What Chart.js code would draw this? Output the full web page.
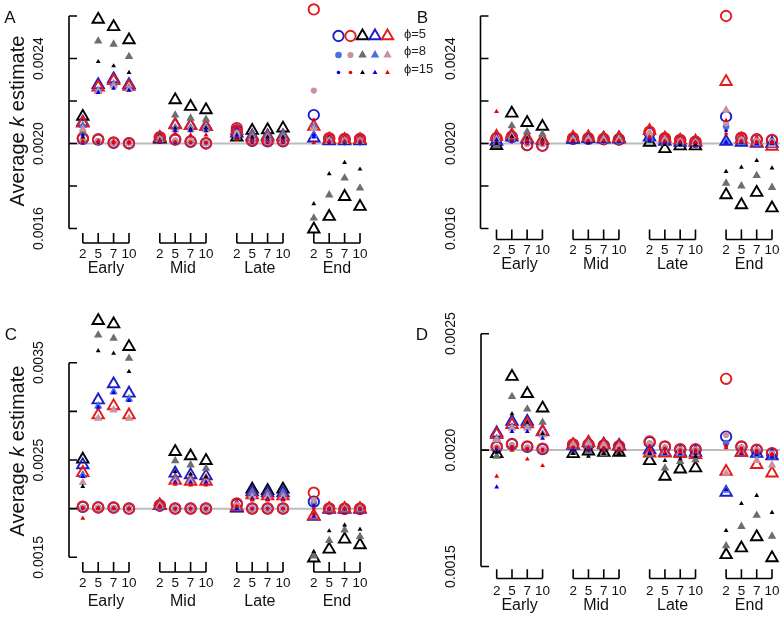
<!DOCTYPE html>
<html>
<head>
<meta charset="utf-8">
<script src="https://cdn.jsdelivr.net/npm/chart.js@4.4.1/dist/chart.umd.min.js"></script>
<style>
  body { margin: 0; background: #fff; }
  canvas { position: absolute; left: 0; top: 0; }
</style>
</head>
<body>
<canvas id="panelA" width="784" height="618"></canvas>
<canvas id="panelB" width="784" height="618"></canvas>
<canvas id="panelC" width="784" height="618"></canvas>
<canvas id="panelD" width="784" height="618"></canvas>
<script>
// categories: 4 sampling periods x 4 sample sizes
const groups = ['Early', 'Mid', 'Late', 'End'];
const sampleLabels = ['2', '5', '7', '10'];
const slots = [0, 1, 2, 3, 5, 6, 7, 8, 10, 11, 12, 13, 15, 16, 17, 18];
const refK = 0.002;
const legendLabels = ['\u03d5=5', '\u03d5=8', '\u03d5=15'];

// series order in every panel:
// phi=5 : open circle blue, open circle red, open tri black, open tri blue, open tri red
// phi=8 : circle blue, circle pink, tri grey, tri blue, tri pink
// phi=15: dot blue, dot red, small tri black, small tri blue, small tri red

// ---- panel A ----
const A_c5b  = [0.002022, 0.002018, 0.002003, 0.002000, 0.002028, 0.002018, 0.002008, 0.002000, 0.002060, 0.002012, 0.002010, 0.002010, 0.002134, 0.002022, 0.002020, 0.002020];
const A_c5r  = [0.002025, 0.002020, 0.002005, 0.002002, 0.002030, 0.002020, 0.002010, 0.002002, 0.002072, 0.002015, 0.002013, 0.002012, 0.002631, 0.002025, 0.002022, 0.002022];
const A_t5k  = [0.002127, 0.002584, 0.002549, 0.002487, 0.002020, 0.002205, 0.002174, 0.002158, 0.002030, 0.002061, 0.002064, 0.002072, 0.001597, 0.001656, 0.001750, 0.001703];
const A_t5b  = [0.002100, 0.002276, 0.002304, 0.002276, 0.002025, 0.002090, 0.002085, 0.002080, 0.002048, 0.002035, 0.002035, 0.002035, 0.002025, 0.002012, 0.002012, 0.002012];
const A_t5r  = [0.002095, 0.002265, 0.002295, 0.002268, 0.002028, 0.002087, 0.002083, 0.002080, 0.002060, 0.002030, 0.002030, 0.002030, 0.002080, 0.002020, 0.002018, 0.002018];
const A_c8b  = [0.002012, 0.002010, 0.002003, 0.002002, 0.002020, 0.002012, 0.002008, 0.002002, 0.002040, 0.002010, 0.002010, 0.002010, 0.002080, 0.002012, 0.002012, 0.002012];
const A_c8p  = [0.002015, 0.002012, 0.002005, 0.002003, 0.002022, 0.002015, 0.002010, 0.002003, 0.002050, 0.002012, 0.002012, 0.002012, 0.002249, 0.002015, 0.002015, 0.002015];
const A_t8g  = [0.002056, 0.002482, 0.002467, 0.002409, 0.002020, 0.002134, 0.002119, 0.002114, 0.002030, 0.002045, 0.002042, 0.002045, 0.001649, 0.001758, 0.001837, 0.001790];
const A_t8b  = [0.002085, 0.002250, 0.002280, 0.002262, 0.002020, 0.002075, 0.002075, 0.002075, 0.002040, 0.002030, 0.002030, 0.002030, 0.002040, 0.002012, 0.002012, 0.002012];
const A_t8p  = [0.002068, 0.002245, 0.002270, 0.002255, 0.002018, 0.002065, 0.002065, 0.002065, 0.002045, 0.002028, 0.002028, 0.002028, 0.002070, 0.002010, 0.002010, 0.002010];
const A_c15b = [0.002005, 0.002005, 0.002003, 0.002003, 0.002008, 0.002005, 0.002005, 0.002003, 0.002020, 0.002005, 0.002005, 0.002005, 0.002040, 0.002005, 0.002005, 0.002005];
const A_c15r = [0.002008, 0.002008, 0.002005, 0.002005, 0.002010, 0.002008, 0.002006, 0.002005, 0.002025, 0.002008, 0.002008, 0.002008, 0.002112, 0.002008, 0.002008, 0.002008];
const A_t15k = [0.002030, 0.002385, 0.002365, 0.002334, 0.002015, 0.002072, 0.002068, 0.002072, 0.002025, 0.002030, 0.002030, 0.002030, 0.001716, 0.001857, 0.001910, 0.001879];
const A_t15b = [0.002040, 0.002240, 0.002260, 0.002250, 0.002015, 0.002060, 0.002060, 0.002060, 0.002040, 0.002020, 0.002020, 0.002020, 0.002030, 0.002008, 0.002008, 0.002008];
const A_t15r = [0.002010, 0.002012, 0.002010, 0.002008, 0.002012, 0.002045, 0.002040, 0.002040, 0.002020, 0.002012, 0.002010, 0.002010, 0.002003, 0.002010, 0.002010, 0.002010];
const A_yTicks  = [0.0016, 0.0018, 0.0020, 0.0022, 0.0024, 0.0026];
const A_yLabels = ['0.0016', '', '0.0020', '', '0.0024', ''];

// ---- panel B ----
const B_c5b  = [0.002022, 0.002030, 0.001992, 0.001990, 0.002022, 0.002022, 0.002020, 0.002018, 0.002050, 0.002022, 0.002015, 0.002008, 0.002127, 0.002025, 0.002018, 0.002015];
const B_c5r  = [0.002025, 0.002033, 0.001993, 0.001990, 0.002025, 0.002025, 0.002022, 0.002020, 0.002056, 0.002025, 0.002017, 0.002009, 0.002600, 0.002028, 0.002020, 0.002017];
const B_t5k  = [0.001990, 0.002142, 0.002098, 0.002080, 0.002020, 0.002025, 0.002022, 0.002025, 0.002005, 0.001975, 0.001988, 0.001988, 0.001758, 0.001711, 0.001769, 0.001696];
const B_t5b  = [0.002010, 0.002030, 0.002020, 0.002015, 0.002020, 0.002022, 0.002020, 0.002020, 0.002030, 0.002010, 0.002005, 0.002005, 0.002009, 0.002005, 0.002000, 0.002000];
const B_t5r  = [0.002033, 0.002040, 0.002025, 0.002018, 0.002028, 0.002030, 0.002025, 0.002025, 0.002060, 0.002025, 0.002015, 0.002010, 0.002291, 0.002020, 0.002005, 0.001986];
const B_c8b  = [0.002012, 0.002015, 0.002000, 0.001998, 0.002015, 0.002015, 0.002012, 0.002012, 0.002030, 0.002012, 0.002008, 0.002005, 0.002080, 0.002015, 0.002010, 0.002008];
const B_c8p  = [0.002015, 0.002020, 0.002000, 0.001998, 0.002018, 0.002018, 0.002015, 0.002015, 0.002040, 0.002015, 0.002010, 0.002005, 0.002095, 0.002018, 0.002012, 0.002010];
const B_t8g  = [0.001989, 0.002083, 0.002055, 0.002044, 0.002018, 0.002020, 0.002020, 0.002020, 0.002020, 0.002000, 0.002000, 0.002000, 0.001813, 0.001800, 0.001849, 0.001793];
const B_t8b  = [0.002005, 0.002025, 0.002020, 0.002015, 0.002018, 0.002020, 0.002018, 0.002018, 0.002025, 0.002010, 0.002005, 0.002005, 0.002009, 0.002005, 0.002000, 0.002000];
const B_t8p  = [0.002020, 0.002035, 0.002020, 0.002015, 0.002020, 0.002022, 0.002020, 0.002020, 0.002050, 0.002020, 0.002010, 0.002005, 0.002158, 0.002015, 0.002005, 0.001995];
const B_c15b = [0.002008, 0.002010, 0.002000, 0.001998, 0.002010, 0.002010, 0.002008, 0.002008, 0.002020, 0.002008, 0.002005, 0.002003, 0.002060, 0.002010, 0.002005, 0.002005];
const B_c15r = [0.002010, 0.002012, 0.002000, 0.001998, 0.002012, 0.002012, 0.002010, 0.002010, 0.002025, 0.002010, 0.002008, 0.002005, 0.002045, 0.002012, 0.002008, 0.002008];
const B_t15k = [0.002000, 0.002033, 0.002025, 0.002017, 0.002010, 0.002005, 0.002010, 0.002010, 0.002010, 0.001995, 0.001995, 0.001995, 0.001868, 0.001888, 0.001920, 0.001884];
const B_t15b = [0.002017, 0.002015, 0.002010, 0.002008, 0.002010, 0.002010, 0.002010, 0.002010, 0.002015, 0.002005, 0.002003, 0.002003, 0.002005, 0.002005, 0.002000, 0.002000];
const B_t15r = [0.002150, 0.002020, 0.002015, 0.002010, 0.002012, 0.002012, 0.002012, 0.002012, 0.002030, 0.002010, 0.002008, 0.002005, 0.002108, 0.002010, 0.002005, 0.002003];
const B_yTicks  = [0.0016, 0.0018, 0.0020, 0.0022, 0.0024, 0.0026];
const B_yLabels = ['0.0016', '', '0.0020', '', '0.0024', ''];

// ---- panel C ----
const C_c5b  = [0.002018, 0.002012, 0.002010, 0.002000, 0.002030, 0.002000, 0.002000, 0.002000, 0.002045, 0.002000, 0.002000, 0.002000, 0.002072, 0.002000, 0.001998, 0.001998];
const C_c5r  = [0.002020, 0.002014, 0.002012, 0.002002, 0.002035, 0.002003, 0.002003, 0.002003, 0.002055, 0.002003, 0.002003, 0.002003, 0.002164, 0.002003, 0.002000, 0.002000];
const C_t5k  = [0.002507, 0.003932, 0.003897, 0.003664, 0.002030, 0.002586, 0.002541, 0.002493, 0.002003, 0.002199, 0.002185, 0.002199, 0.001490, 0.001582, 0.001685, 0.001627];
const C_t5b  = [0.002449, 0.003116, 0.003281, 0.003185, 0.002030, 0.002363, 0.002346, 0.002336, 0.002010, 0.002170, 0.002160, 0.002160, 0.001920, 0.001990, 0.001990, 0.001990];
const C_t5r  = [0.002370, 0.002962, 0.003055, 0.002962, 0.002035, 0.002290, 0.002280, 0.002280, 0.002020, 0.002140, 0.002130, 0.002130, 0.001925, 0.002000, 0.002000, 0.001998];
const C_c8b  = [0.002010, 0.002008, 0.002005, 0.002000, 0.002020, 0.002000, 0.002000, 0.002000, 0.002030, 0.002000, 0.002000, 0.002000, 0.002060, 0.002000, 0.002000, 0.002000];
const C_c8p  = [0.002012, 0.002010, 0.002008, 0.002000, 0.002025, 0.002002, 0.002002, 0.002002, 0.002040, 0.002002, 0.002002, 0.002002, 0.002089, 0.002002, 0.002000, 0.002000];
const C_t8g  = [0.002340, 0.003784, 0.003750, 0.003545, 0.002030, 0.002493, 0.002449, 0.002414, 0.002010, 0.002170, 0.002160, 0.002165, 0.001514, 0.001671, 0.001781, 0.001712];
const C_t8b  = [0.002346, 0.003055, 0.003202, 0.003127, 0.002030, 0.002312, 0.002300, 0.002300, 0.002010, 0.002164, 0.002150, 0.002160, 0.001920, 0.001995, 0.001995, 0.001995];
const C_t8p  = [0.002267, 0.002928, 0.003014, 0.002928, 0.002030, 0.002277, 0.002280, 0.002280, 0.002020, 0.002120, 0.002120, 0.002120, 0.001930, 0.002000, 0.002000, 0.002000];
const C_c15b = [0.002005, 0.002005, 0.002003, 0.002000, 0.002015, 0.002000, 0.002000, 0.002000, 0.002020, 0.002000, 0.002000, 0.002000, 0.002030, 0.002000, 0.002000, 0.002000];
const C_c15r = [0.002008, 0.002005, 0.002005, 0.002000, 0.002018, 0.002000, 0.002000, 0.002000, 0.002025, 0.002000, 0.002000, 0.002000, 0.002003, 0.002000, 0.002000, 0.002000];
const C_t15k = [0.002226, 0.003623, 0.003596, 0.003408, 0.002025, 0.002380, 0.002356, 0.002325, 0.002000, 0.002100, 0.002092, 0.002092, 0.001558, 0.001771, 0.001832, 0.001788];
const C_t15b = [0.002330, 0.003040, 0.003190, 0.003110, 0.002020, 0.002270, 0.002270, 0.002270, 0.002000, 0.002100, 0.002100, 0.002100, 0.001920, 0.001995, 0.001995, 0.001995];
const C_t15r = [0.001901, 0.002000, 0.002000, 0.002000, 0.002020, 0.002250, 0.002243, 0.002243, 0.002020, 0.002089, 0.002089, 0.002089, 0.001950, 0.001998, 0.001998, 0.001998];
const C_yTicks  = [0.0015, 0.0020, 0.0025, 0.0030, 0.0035];
const C_yLabels = ['0.0015', '', '0.0025', '', '0.0035'];

// ---- panel D ----
const D_c5b  = [0.002013, 0.002025, 0.002014, 0.002004, 0.002022, 0.002022, 0.002018, 0.002015, 0.002034, 0.002014, 0.002002, 0.002002, 0.002058, 0.002014, 0.002000, 0.001985];
const D_c5r  = [0.002016, 0.002027, 0.002016, 0.002006, 0.002025, 0.002025, 0.002020, 0.002017, 0.002037, 0.002016, 0.002004, 0.002004, 0.002306, 0.002016, 0.002002, 0.001987];
const D_t5k  = [0.001984, 0.002316, 0.002242, 0.002180, 0.001984, 0.001995, 0.001990, 0.001990, 0.001954, 0.001887, 0.001918, 0.001923, 0.001550, 0.001579, 0.001627, 0.001537];
const D_t5b  = [0.002073, 0.002123, 0.002123, 0.002080, 0.002020, 0.002030, 0.002025, 0.002020, 0.002000, 0.001990, 0.001990, 0.001990, 0.001818, 0.001990, 0.001985, 0.001975];
const D_t5r  = [0.002066, 0.002109, 0.002112, 0.002078, 0.002023, 0.002033, 0.002023, 0.002016, 0.001987, 0.001987, 0.001984, 0.001980, 0.001908, 0.001990, 0.001937, 0.001901];
const D_c8b  = [0.002010, 0.002020, 0.002010, 0.002002, 0.002018, 0.002018, 0.002015, 0.002012, 0.002025, 0.002010, 0.002000, 0.002000, 0.002030, 0.002010, 0.001998, 0.001983];
const D_c8p  = [0.002012, 0.002022, 0.002012, 0.002004, 0.002020, 0.002020, 0.002017, 0.002014, 0.002030, 0.002012, 0.002002, 0.002002, 0.002065, 0.002012, 0.002000, 0.001985];
const D_t8g  = [0.001973, 0.002230, 0.002176, 0.002119, 0.001990, 0.001995, 0.001985, 0.001990, 0.001980, 0.001923, 0.001951, 0.001958, 0.001589, 0.001672, 0.001720, 0.001630];
const D_t8b  = [0.002050, 0.002100, 0.002100, 0.002070, 0.002015, 0.002020, 0.002015, 0.002012, 0.001990, 0.001985, 0.001985, 0.001985, 0.001827, 0.001988, 0.001980, 0.001970];
const D_t8p  = [0.002044, 0.002094, 0.002094, 0.002065, 0.002025, 0.002030, 0.002020, 0.002015, 0.001990, 0.001990, 0.001990, 0.001985, 0.001900, 0.001990, 0.001955, 0.001936];
const D_c15b = [0.002005, 0.002012, 0.002005, 0.002000, 0.002010, 0.002010, 0.002008, 0.002005, 0.002015, 0.002005, 0.001998, 0.001998, 0.002016, 0.002005, 0.001995, 0.001980];
const D_c15r = [0.002012, 0.002015, 0.002008, 0.002002, 0.002012, 0.002012, 0.002010, 0.002008, 0.002018, 0.002008, 0.002000, 0.002000, 0.002020, 0.002008, 0.001998, 0.001982];
const D_t15k = [0.001990, 0.002156, 0.002119, 0.002070, 0.001985, 0.001973, 0.001985, 0.001985, 0.001985, 0.001955, 0.001962, 0.001973, 0.001654, 0.001770, 0.001805, 0.001732];
const D_t15b = [0.001841, 0.002080, 0.002080, 0.002050, 0.002000, 0.002000, 0.002000, 0.002000, 0.001990, 0.001985, 0.001985, 0.001985, 0.001830, 0.001985, 0.001980, 0.001970];
const D_t15r = [0.001887, 0.001999, 0.001961, 0.001933, 0.002010, 0.002010, 0.002000, 0.002000, 0.002000, 0.001990, 0.001990, 0.001990, 0.002010, 0.001990, 0.001990, 0.001980];
const D_yTicks  = [0.0015, 0.0020, 0.0025];
const D_yLabels = ['0.0015', '0.0020', '0.0025'];

// marker look for each of the 15 series (same order as above)
const BLUE = '#1c1cc8', RED = '#e61a1a', ROYAL = '#4a6fdc', PINK = '#c8939c', GREY = '#6e6e6e';
const seriesStyles = [
    { shape: 'circle',   open: true,  color: BLUE,   r: 5.2 },
    { shape: 'circle',   open: true,  color: RED,    r: 5.2 },
    { shape: 'triangle', open: true,  color: '#000', r: 6.6 },
    { shape: 'triangle', open: true,  color: BLUE,   r: 6.6 },
    { shape: 'triangle', open: true,  color: RED,    r: 6.6 },
    { shape: 'circle',   open: false, color: ROYAL,  r: 3.3 },
    { shape: 'circle',   open: false, color: PINK,   r: 3.1 },
    { shape: 'triangle', open: false, color: GREY,   r: 4.9 },
    { shape: 'triangle', open: false, color: ROYAL,  r: 4.9 },
    { shape: 'triangle', open: false, color: PINK,   r: 4.9 },
    { shape: 'circle',   open: false, color: '#0000ee', r: 1.8 },
    { shape: 'circle',   open: false, color: '#ee0000', r: 1.8 },
    { shape: 'triangle', open: false, color: '#000', r: 2.8 },
    { shape: 'triangle', open: false, color: '#0000ee', r: 2.8 },
    { shape: 'triangle', open: false, color: '#ee0000', r: 2.8 }
];
const OPEN_LW = 1.9;

const FONT = '"Liberation Sans", Arial, sans-serif';

/**
 * Turn the 15 value arrays of a panel into scatter datasets
 * (reversed so the first series ends up at the bottom)
 */
function buildDatasets(seriesList) {
    return seriesList.map((values, i) => {
        const st = seriesStyles[i];
        return {
            data: values.map((v, j) => ({ x: slots[j], y: v })),
            pointStyle: st.shape,
            pointRadius: st.r,
            pointBorderWidth: st.open ? OPEN_LW : 0,
            pointBorderColor: st.color,
            pointBackgroundColor: st.open ? 'rgba(0,0,0,0)' : st.color,
            clip: false
        };
    }).reverse();
}

function drawTitle(ctx, cx, cy) {
    const parts = [['Average ', 'normal'], ['k', 'italic'], [' estimate', 'normal']];
    ctx.save();
    ctx.translate(cx, cy);
    ctx.rotate(-Math.PI / 2);
    ctx.textBaseline = 'middle';
    ctx.textAlign = 'left';
    ctx.fillStyle = '#111';
    let total = 0;
    const widths = parts.map(([t, s]) => {
        ctx.font = `${s} 20px ${FONT}`;
        const w = ctx.measureText(t).width;
        total += w;
        return w;
    });
    let x = -total / 2;
    parts.forEach(([t, s], i) => {
        ctx.font = `${s} 20px ${FONT}`;
        ctx.fillText(t, x, 0);
        x += widths[i];
    });
    ctx.restore();
}

function drawLegend(ctx) {
    const cols = [338.5, 350.5, 362.5, 375, 387.5];
    const rows = [36, 55, 72.5];
    rows.forEach((ry, r) => {
        cols.forEach((cx, c) => {
            const st = seriesStyles[r * 5 + c];
            ctx.save();
            ctx.fillStyle = st.open ? 'rgba(0,0,0,0)' : st.color;
            ctx.strokeStyle = st.color;
            ctx.lineWidth = st.open ? OPEN_LW : 0;
            Chart.helpers.drawPoint(ctx, {
                pointStyle: st.shape, radius: st.r, rotation: 0,
                borderWidth: st.open ? OPEN_LW : 0
            }, cx, ry);
            ctx.restore();
        });
    });
    ctx.save();
    ctx.fillStyle = '#222';
    ctx.font = `13px ${FONT}`;
    ctx.textBaseline = 'middle';
    ctx.textAlign = 'left';
    [34.3, 51.7, 69].forEach((ty, i) => ctx.fillText(legendLabels[i], 404, ty));
    ctx.restore();
}

// R-style axes, reference line, panel letter
const panelFrame = {
    id: 'panelFrame',
    beforeDatasetsDraw(chart, args, opts) {
        const { ctx, chartArea, scales: { y } } = chart;
        const yRef = y.getPixelForValue(refK);
        ctx.save();
        ctx.strokeStyle = '#bcbcbc';
        ctx.lineWidth = 2;
        ctx.beginPath();
        ctx.moveTo(chartArea.left, yRef);
        ctx.lineTo(chartArea.right, yRef);
        ctx.stroke();
        ctx.restore();
    },
    afterDraw(chart, args, opts) {
        const { ctx, chartArea, scales: { x, y } } = chart;
        const ax = chartArea.left;
        ctx.save();
        ctx.strokeStyle = '#000';
        ctx.fillStyle = '#111';
        ctx.lineWidth = 1.6;

        // y axis with inward ticks, only over the tick range
        const yTop = y.getPixelForValue(opts.yTicks[opts.yTicks.length - 1]);
        const yBot = y.getPixelForValue(opts.yTicks[0]);
        ctx.beginPath();
        ctx.moveTo(ax, yTop);
        ctx.lineTo(ax, yBot);
        opts.yTicks.forEach(t => {
            const py = y.getPixelForValue(t);
            ctx.moveTo(ax, py);
            ctx.lineTo(ax + 8, py);
        });
        ctx.stroke();
        ctx.font = `14px ${FONT}`;
        ctx.textAlign = 'center';
        ctx.textBaseline = 'middle';
        opts.yTicks.forEach((t, i) => {
            if (!opts.yLabels[i]) return;
            ctx.save();
            ctx.translate(ax - 29.5, y.getPixelForValue(t));
            ctx.rotate(-Math.PI / 2);
            ctx.fillText(opts.yLabels[i], 0, 0);
            ctx.restore();
        });

        // one bracket axis per sampling period
        const xa = opts.xAxis;
        groups.forEach((g, gi) => {
            const px = slots.slice(gi * 4, gi * 4 + 4).map(s => x.getPixelForValue(s));
            ctx.beginPath();
            ctx.moveTo(px[0], xa.line);
            ctx.lineTo(px[3], xa.line);
            px.forEach(p => {
                ctx.moveTo(p, xa.line);
                ctx.lineTo(p, xa.tickTop);
            });
            ctx.stroke();
            ctx.font = `13.5px ${FONT}`;
            px.forEach((p, i) => ctx.fillText(sampleLabels[i], p, xa.digits));
            ctx.font = `16px ${FONT}`;
            ctx.fillText(g, (px[0] + px[3]) / 2, xa.group);
        });

        // panel letter
        ctx.font = `17px ${FONT}`;
        ctx.fillText(opts.letter, opts.letterPos[0], opts.letterPos[1]);
        ctx.restore();

        if (opts.title) drawTitle(ctx, opts.title[0], opts.title[1]);
        if (opts.legend) drawLegend(ctx);
    }
};

// geo: chart area box plus where slot 0 / slot 18 and the lowest / highest
// tick should land, so the scale ranges reach past the axis and nothing is culled
function makePanel(canvasId, seriesList, geo, frame) {
    const unit = (geo.px18 - geo.px0) / 18;
    const xMin = -(geo.px0 - geo.left) / unit;
    const xMax = 18 + (geo.right - geo.px18) / unit;
    const lo = frame.yTicks[0], hi = frame.yTicks[frame.yTicks.length - 1];
    const perPx = (hi - lo) / (geo.loPx - geo.hiPx);
    const yMax = hi + (geo.hiPx - geo.top) * perPx;
    const yMin = lo - (geo.bottom - geo.loPx) * perPx;
    return new Chart(document.getElementById(canvasId), {
        type: 'scatter',
        data: { datasets: buildDatasets(seriesList) },
        options: {
            responsive: false,
            animation: false,
            events: [],
            layout: {
                autoPadding: false,
                padding: { left: geo.left, right: 784 - geo.right, top: geo.top, bottom: 618 - geo.bottom }
            },
            scales: {
                x: { type: 'linear', min: xMin, max: xMax, display: false },
                y: { type: 'linear', min: yMin, max: yMax, display: false }
            },
            plugins: {
                legend: { display: false },
                tooltip: { enabled: false },
                panelFrame: frame
            }
        },
        plugins: [panelFrame]
    });
}

makePanel('panelA',
    [A_c5b, A_c5r, A_t5k, A_t5b, A_t5r, A_c8b, A_c8p, A_t8g, A_t8b, A_t8p, A_c15b, A_c15r, A_t15k, A_t15b, A_t15r],
    { left: 69, right: 367, px0: 82.8, px18: 360, top: 0, bottom: 250, hiPx: 16, loPx: 228.5 },
    { yTicks: A_yTicks, yLabels: A_yLabels, letter: 'A', letterPos: [10, 18],
      xAxis: { tickTop: 233, line: 243, digits: 254.5, group: 268.5 },
      title: [18, 121], legend: true });

makePanel('panelB',
    [B_c5b, B_c5r, B_t5k, B_t5b, B_t5r, B_c8b, B_c8p, B_t8g, B_t8b, B_t8p, B_c15b, B_c15r, B_t15k, B_t15b, B_t15r],
    { left: 480.5, right: 780, px0: 496.5, px18: 772, top: 0, bottom: 250, hiPx: 16, loPx: 228.5 },
    { yTicks: B_yTicks, yLabels: B_yLabels, letter: 'B', letterPos: [422.5, 18],
      xAxis: { tickTop: 229.5, line: 239.5, digits: 250, group: 265 } });

makePanel('panelC',
    [C_c5b, C_c5r, C_t5k, C_t5b, C_t5r, C_c8b, C_c8p, C_t8g, C_t8b, C_t8p, C_c15b, C_c15r, C_t15k, C_t15b, C_t15r],
    { left: 69, right: 366, px0: 82.8, px18: 360, top: 300, bottom: 580, hiPx: 362.7, loPx: 557.3 },
    { yTicks: C_yTicks, yLabels: C_yLabels, letter: 'C', letterPos: [11, 335],
      xAxis: { tickTop: 562, line: 572, digits: 583.5, group: 601.5 },
      title: [18, 451] });

makePanel('panelD',
    [D_c5b, D_c5r, D_t5k, D_t5b, D_t5r, D_c8b, D_c8p, D_t8g, D_t8b, D_t8p, D_c15b, D_c15r, D_t15k, D_t15b, D_t15r],
    { left: 481, right: 780, px0: 496.7, px18: 772, top: 300, bottom: 585, hiPx: 333.7, loPx: 566.5 },
    { yTicks: D_yTicks, yLabels: D_yLabels, letter: 'D', letterPos: [422, 335],
      xAxis: { tickTop: 569.3, line: 578.5, digits: 591, group: 606 } });
</script>
</body>
</html>
